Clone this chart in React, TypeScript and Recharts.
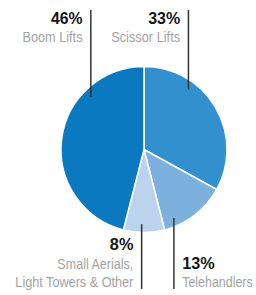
import React from "react";
import { PieChart, Pie, Cell } from "recharts";

const categories = ["Scissor Lifts", "Telehandlers", "Small Aerials,\nLight Towers & Other", "Boom Lifts"];
const shares = [33, 13, 8, 46];
const percentLabels = ["33%", "13%", "8%", "46%"];
const colors = ["#3290cf", "#7eb0de", "#bcd3ee", "#0a79bf"];

// label layout: angle (deg) of the leader-line anchor inside the slice, side, anchor, baseline
const labelAngles = [53.5, -66.4, -91.8, 135.4];
const labelSides = ["top", "bottom", "bottom", "top"];
const textAnchors = ["end", "start", "end", "end"];
const pctBaselines = [24, 269, 250, 24];
// condensed-face widths (px) of each text line: [percent, name line 1, name line 2]
const textWidths = [
  [32, 69],
  [32.5, 70.5],
  [23.5, 76, 118],
  [31.5, 60],
];

const data = categories.map((c, i) => ({ name: c, value: shares[i], pct: percentLabels[i] }));

const FONT = "'Liberation Sans', Arial, sans-serif";
const RAD = Math.PI / 180;

const renderLabel = (props: any) => {
  const { cx, cy, outerRadius, index } = props;
  const a = labelAngles[index] * RAD;
  const r = outerRadius * 0.9;
  const x = cx + r * Math.cos(a);
  const y = cy - r * Math.sin(a);
  const top = labelSides[index] === "top";
  const y2 = top ? 10 : 289;
  const anchor = textAnchors[index];
  const tx = anchor === "end" ? x - 8.3 : x + 8.3;
  const pctY = pctBaselines[index];
  const lines = data[index].name.split("\n");
  const nameStart = top ? pctY + 18.3 : lines.length > 1 ? pctY + 19.3 : pctY + 18.3;
  const w = textWidths[index];
  return (
    <g key={`lbl-${index}`}>
      <line x1={x} y1={y} x2={x} y2={y2} stroke="#333" strokeWidth={1.5} />
      <text
        x={tx}
        y={pctY}
        textAnchor={anchor}
        fontFamily={FONT}
        fontWeight="bold"
        fontSize={17}
        fill="#141414"
        textLength={w[0]}
        lengthAdjust="spacingAndGlyphs"
      >
        {data[index].pct}
      </text>
      {lines.map((ln, k) => (
        <text
          key={k}
          x={tx}
          y={nameStart + k * 18}
          textAnchor={anchor}
          fontFamily={FONT}
          fontSize={15}
          fill="#a3a3a3"
          textLength={w[k + 1]}
          lengthAdjust="spacingAndGlyphs"
        >
          {ln}
        </text>
      ))}
    </g>
  );
};

export default function App() {
  return (
    <div style={{ position: "absolute", left: 0, top: 0, width: 256, height: 295, background: "#fff" }}>
      <PieChart width={256} height={295} margin={{ top: 0, right: 0, bottom: 0, left: 0 }}>
        <Pie
          data={data}
          dataKey="value"
          nameKey="name"
          cx={144}
          cy={149.5}
          outerRadius={83}
          startAngle={90}
          endAngle={-270}
          stroke="#ffffff"
          strokeWidth={1.5}
          label={renderLabel}
          labelLine={false}
          isAnimationActive={false}
        >
          {data.map((d, i) => (
            <Cell key={d.name} fill={colors[i]} />
          ))}
        </Pie>
      </PieChart>
    </div>
  );
}
